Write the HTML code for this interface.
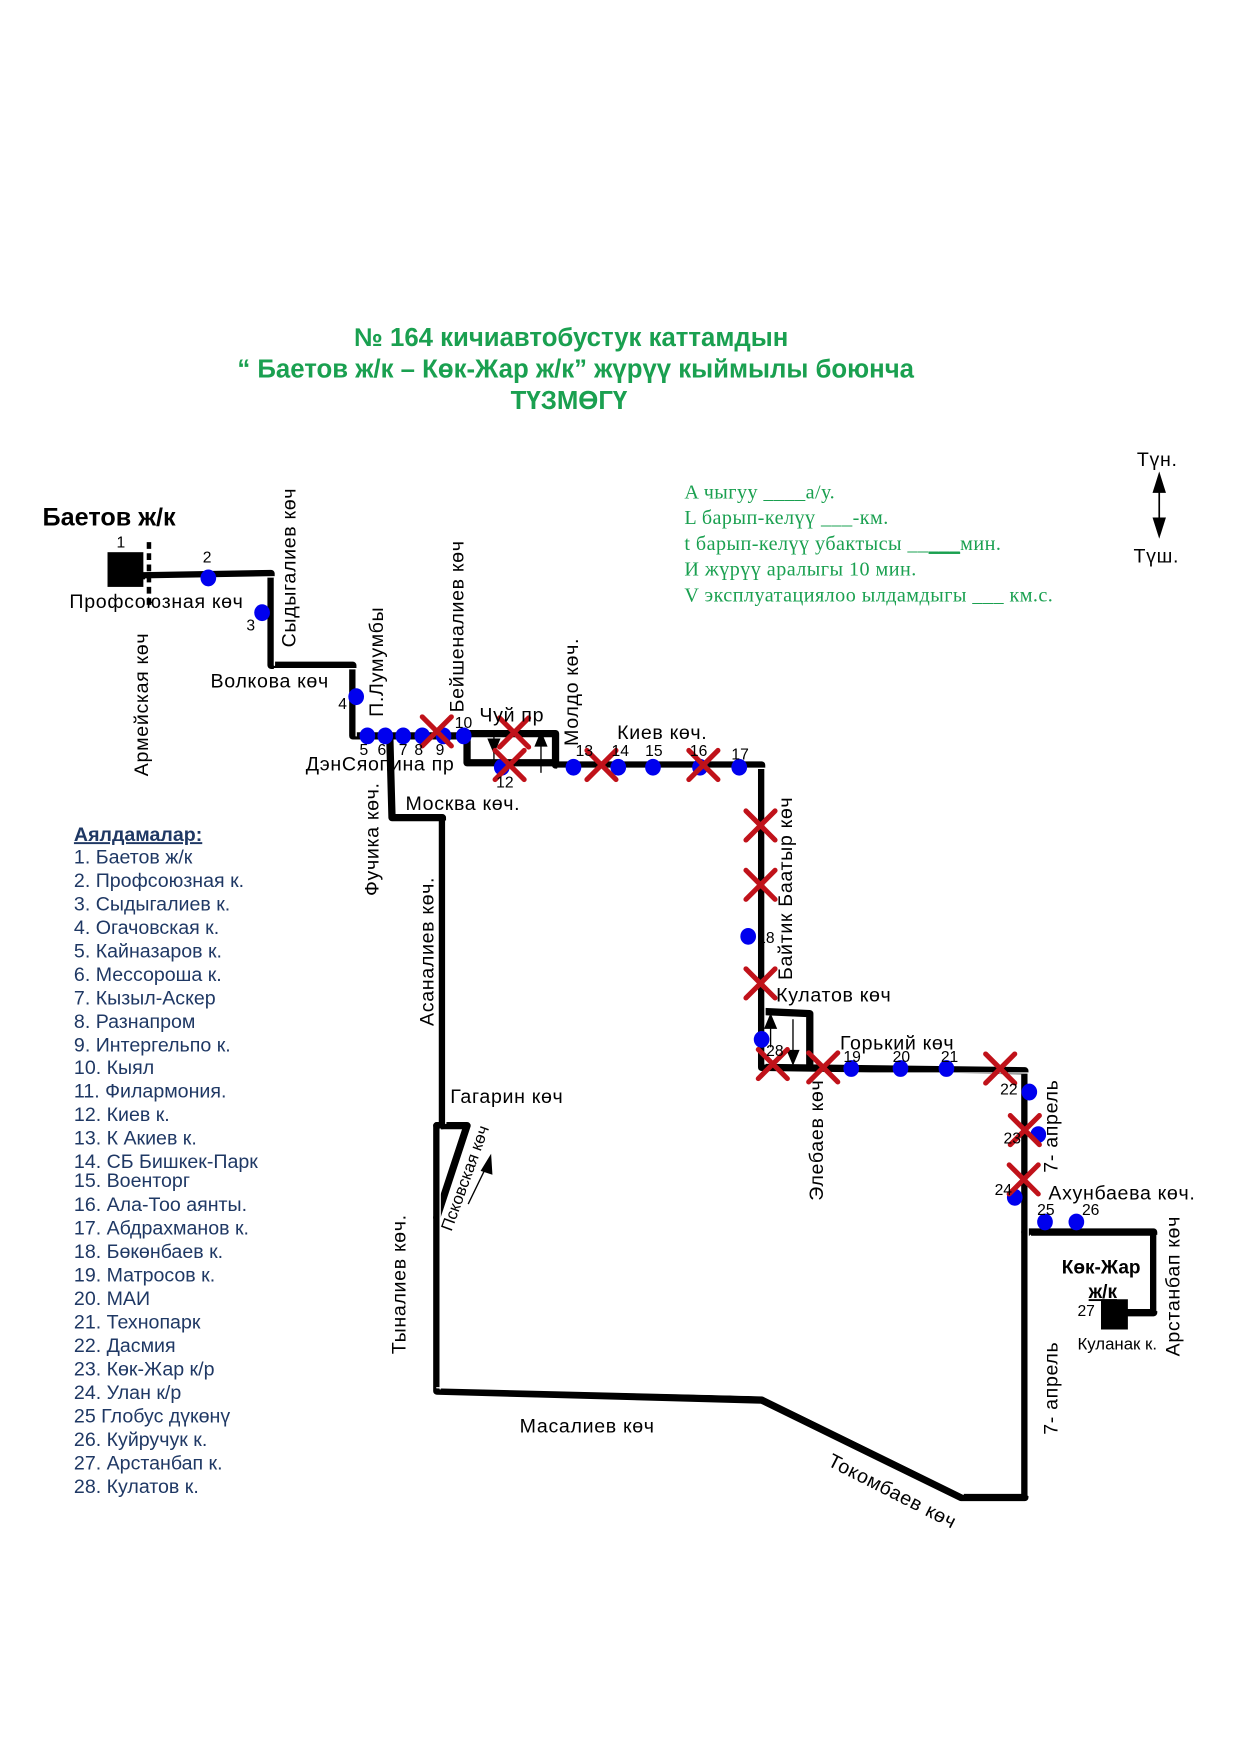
<!DOCTYPE html>
<html><head><meta charset="utf-8"><style>
html,body{margin:0;padding:0;background:#fff}
svg{display:block}
text{font-family:"Liberation Sans",sans-serif;fill:#000}
.g{fill:#1aa050;font-weight:bold;font-size:23px}
.inf{fill:#1aa050;font-family:"Liberation Serif",serif;font-size:18px;letter-spacing:0.4px}
.lg{fill:#1f3864;font-size:17.5px}
.s{font-size:17.5px;letter-spacing:0.6px}
.n{font-size:14px}
</style></head><body>
<svg width="1241" height="1754" viewBox="0 0 1108 1566" preserveAspectRatio="none" xmlns="http://www.w3.org/2000/svg">
<rect width="1108" height="1566" fill="#fff"/>
<text class="g" x="510" y="309" text-anchor="middle">№ 164 кичиавтобустук каттамдын</text>
<text class="g" x="514" y="337" text-anchor="middle">“ Баетов ж/к – Көк-Жар ж/к” жүрүү кыймылы боюнча</text>
<text class="g" x="508" y="365" text-anchor="middle">ТҮЗМӨГҮ</text>

<text class="inf" x="611" y="445">A чыгуу  ____а/у.</text>
<text class="inf" x="611" y="468">L барып-келүү  ___-км.</text>
<text class="inf" x="611" y="491">t барып-келүү убактысы  __<tspan text-decoration="underline">___</tspan>мин.</text>
<text class="inf" x="611" y="514">И жүрүү аралыгы  10   мин.</text>
<text class="inf" x="611" y="537">V эксплуатациялоо ылдамдыгы ___ км.с.</text>

<text class="s" x="1015" y="416">Түн.</text>
<line x1="1035" y1="432" x2="1035" y2="470" stroke="#000" stroke-width="1.5"/>
<polygon points="1035,421 1029,440 1041,440" fill="#000"/>
<polygon points="1035,481 1029,462 1041,462" fill="#000"/>
<text class="s" x="1012" y="502">Түш.</text>

<g fill="none" stroke-linejoin="round" stroke-linecap="round">
<g stroke="#000" stroke-width="6.5">
<path d="M128,514 L242,512 L242,594 L315,594 L315,657 L417,657 L417,681 L496,681 L496,655 L417,655"/>
<path d="M496,683 L680,683 L680,953 L915,956 L915,1337 L858,1337 L680,1250 L390,1242 L390,1005 L395,1005 L395,730 L350,730 L348,657"/>
<path d="M680,903 L723,905 L723,953"/>
<path d="M390,1005 L417,1005 L390,1087"/>
<path d="M915,1100 L1030,1100 L1030,1172 L1000,1172"/>
</g>
<g stroke="#fff" stroke-width="1.2">
<path d="M130,517 L245,515 M245,516 L245,594 M245,597 L318,597 M318,597 L318,657 M498,686 L683,686 M683,686 L683,950 M683,958 L918,958 M918,958 L918,1335 M860,1334 L683,1247 M390,1239 L680,1246 M393,1008 L393,1240 M398,733 L398,1003 M1033,1103 L1033,1170 M920,1103 L920,1335"/>
</g>
</g>
<line x1="133" y1="484" x2="133" y2="542" stroke="#000" stroke-width="4" stroke-dasharray="6,4"/>
<rect x="96" y="493" width="32" height="31" fill="#000"/>
<rect x="983" y="1160" width="24" height="27" fill="#000"/>
<g stroke="#000" stroke-width="1.2">
<line x1="441" y1="658" x2="441" y2="681"/><polygon points="436,660 446,660 441,672" fill="#000"/>
<line x1="483" y1="655" x2="483" y2="690"/><polygon points="478,666 488,666 483,654" fill="#000"/>
<line x1="688" y1="905" x2="688" y2="935"/><polygon points="683,918 693,918 688,906" fill="#000"/>
<line x1="708" y1="910" x2="708" y2="950"/><polygon points="703,938 713,938 708,950" fill="#000"/>
<line x1="418" y1="1075" x2="435" y2="1040"/><polygon points="438,1032 430,1045 439,1048" fill="#000"/>
</g>
<g fill="#0000ee">
<ellipse cx="186" cy="516" rx="7" ry="7.5"/><ellipse cx="234" cy="547" rx="7" ry="7.5"/><ellipse cx="318" cy="622" rx="7" ry="7.5"/>
<ellipse cx="328" cy="657" rx="7" ry="7.5"/><ellipse cx="344" cy="657" rx="7" ry="7.5"/><ellipse cx="360" cy="657" rx="7" ry="7.5"/><ellipse cx="377" cy="657" rx="7" ry="7.5"/><ellipse cx="396" cy="657" rx="7" ry="7.5"/><ellipse cx="414" cy="657" rx="7" ry="7.5"/>
<ellipse cx="448" cy="685" rx="7" ry="7.5"/><ellipse cx="512" cy="685" rx="7" ry="7.5"/><ellipse cx="552" cy="685" rx="7" ry="7.5"/><ellipse cx="583" cy="685" rx="7" ry="7.5"/><ellipse cx="625" cy="685" rx="7" ry="7.5"/><ellipse cx="660" cy="685" rx="7" ry="7.5"/>
<ellipse cx="668" cy="836" rx="7" ry="7.5"/><ellipse cx="680" cy="928" rx="7" ry="7.5"/>
<ellipse cx="760" cy="954" rx="7" ry="7.5"/><ellipse cx="804" cy="954" rx="7" ry="7.5"/><ellipse cx="845" cy="954" rx="7" ry="7.5"/>
<ellipse cx="919" cy="975" rx="7" ry="7.5"/><ellipse cx="927" cy="1013" rx="7" ry="7.5"/><ellipse cx="906" cy="1069" rx="7" ry="7.5"/>
<ellipse cx="933" cy="1091" rx="7" ry="7.5"/><ellipse cx="961" cy="1091" rx="7" ry="7.5"/>
</g>
<g stroke="#c0121a" stroke-width="4.5" stroke-linecap="round">
<path d="M377,640 l26,26 m0,-26 l-26,26"/>
<path d="M446,641 l26,26 m0,-26 l-26,26"/>
<path d="M442,670 l26,26 m0,-26 l-26,26"/>
<path d="M524,670 l26,26 m0,-26 l-26,26"/>
<path d="M615,670 l26,26 m0,-26 l-26,26"/>
<path d="M666,724 l26,26 m0,-26 l-26,26"/>
<path d="M666,777 l26,26 m0,-26 l-26,26"/>
<path d="M666,865 l26,26 m0,-26 l-26,26"/>
<path d="M677,937 l26,26 m0,-26 l-26,26"/>
<path d="M722,940 l26,26 m0,-26 l-26,26"/>
<path d="M880,941 l26,26 m0,-26 l-26,26"/>
<path d="M902,996 l26,26 m0,-26 l-26,26"/>
<path d="M901,1040 l26,26 m0,-26 l-26,26"/>
</g>
<g>
<text class="n" x="104" y="489">1</text><text class="n" x="181" y="502">2</text><text class="n" x="220" y="563">3</text><text class="n" x="302" y="633">4</text>
<text class="n" x="321" y="674">5</text><text class="n" x="337" y="674">6</text><text class="n" x="356" y="674">7</text><text class="n" x="370" y="674">8</text><text class="n" x="389" y="674">9</text><text class="n" x="406" y="650">10</text>
<text class="n" x="443" y="703">12</text><text class="n" x="514" y="675">13</text><text class="n" x="546" y="675">14</text><text class="n" x="576" y="675">15</text><text class="n" x="616" y="675">16</text><text class="n" x="653" y="678">17</text>
<text class="n" x="676" y="842">18</text><text class="n" x="684" y="943">28</text>
<text class="n" x="753" y="948">19</text><text class="n" x="797" y="948">20</text><text class="n" x="840" y="948">21</text>
<text class="n" x="893" y="977">22</text><text class="n" x="896" y="1021">23</text><text class="n" x="888" y="1067">24</text><text class="n" x="926" y="1085">25</text><text class="n" x="966" y="1085">26</text><text class="n" x="962" y="1175">27</text>
</g>
<text x="38" y="469" style="font-size:22.5px;font-weight:bold">Баетов ж/к</text>
<text class="s" x="62" y="543">Профсоюзная көч</text>
<text class="s" x="188" y="614">Волкова көч</text>
<text class="s" x="273" y="688">ДэнСяопина пр</text>
<text class="s" x="428" y="644">Чуй пр</text>
<text class="s" x="551" y="660">Киев көч.</text>
<text class="s" x="362" y="723">Москва көч.</text>
<text class="s" x="693" y="894">Кулатов көч</text>
<text class="s" x="750" y="937">Горький көч</text>
<text class="s" x="402" y="985">Гагарин көч</text>
<text class="s" x="936" y="1071">Ахунбаева көч.</text>
<text class="s" x="464" y="1279">Масалиев көч</text>
<text class="s" x="738" y="1308" transform="rotate(27 738 1308)">Токомбаев көч</text>
<text class="n" x="403" y="1100" transform="rotate(-70 403 1100)" style="font-size:15px">Псковская көч</text>
<text x="948" y="1137" style="font-size:17px;font-weight:bold">Көк-Жар</text>
<text x="972" y="1159" style="font-size:17px;font-weight:bold;text-decoration:underline">ж/к</text>
<text x="962" y="1205" style="font-size:15px">Куланак к.</text>
<text class="s" transform="translate(264,578) rotate(-90)">Сыдыгалиев көч</text>
<text class="s" transform="translate(132,693) rotate(-90)">Армейская көч</text>
<text class="s" transform="translate(342,640) rotate(-90)">П.Лумумбы</text>
<text class="s" transform="translate(414,636) rotate(-90)">Бейшеналиев көч</text>
<text class="s" transform="translate(516,666) rotate(-90)">Молдо көч.</text>
<text class="s" transform="translate(338,800) rotate(-90)">Фучика көч.</text>
<text class="s" transform="translate(387,916) rotate(-90)">Асаналиев көч.</text>
<text class="s" transform="translate(707,875) rotate(-90)">Байтик Баатыр көч</text>
<text class="s" transform="translate(735,1072) rotate(-90)">Элебаев көч</text>
<text class="s" transform="translate(944,1047) rotate(-90)">7- апрель</text>
<text class="s" transform="translate(362,1209) rotate(-90)">Тыналиев көч.</text>
<text class="s" transform="translate(944,1281) rotate(-90)">7- апрель</text>
<text class="s" transform="translate(1053,1211) rotate(-90)">Арстанбап көч</text>
<text class="lg" x="66" y="751" style="font-weight:bold;text-decoration:underline">Аялдамалар:</text>
<text class="lg" x="66" y="771">1. Баетов ж/к</text>
<text class="lg" x="66" y="792">2. Профсоюзная к.</text>
<text class="lg" x="66" y="813">3. Сыдыгалиев к.</text>
<text class="lg" x="66" y="834">4. Огачовская к.</text>
<text class="lg" x="66" y="855">5. Кайназаров к.</text>
<text class="lg" x="66" y="876">6. Мессороша к.</text>
<text class="lg" x="66" y="897">7. Кызыл-Аскер</text>
<text class="lg" x="66" y="918">8. Разнапром</text>
<text class="lg" x="66" y="939">9. Интергельпо к.</text>
<text class="lg" x="66" y="959">10. Кыял</text>
<text class="lg" x="66" y="980">11. Филармония.</text>
<text class="lg" x="66" y="1001">12. Киев к.</text>
<text class="lg" x="66" y="1022">13. К Акиев к.</text>
<text class="lg" x="66" y="1043">14. СБ Бишкек-Парк</text>
<text class="lg" x="66" y="1060">15. Военторг</text>
<text class="lg" x="66" y="1081">16. Ала-Тоо аянты.</text>
<text class="lg" x="66" y="1102">17. Абдрахманов к.</text>
<text class="lg" x="66" y="1123">18. Бөкөнбаев к.</text>
<text class="lg" x="66" y="1144">19. Матросов к.</text>
<text class="lg" x="66" y="1165">20. МАИ</text>
<text class="lg" x="66" y="1186">21. Технопарк</text>
<text class="lg" x="66" y="1207">22. Дасмия</text>
<text class="lg" x="66" y="1228">23. Көк-Жар к/р</text>
<text class="lg" x="66" y="1249">24. Улан к/р</text>
<text class="lg" x="66" y="1270">25  Глобус дүкөнү</text>
<text class="lg" x="66" y="1291">26. Куйручук к.</text>
<text class="lg" x="66" y="1312">27. Арстанбап к.</text>
<text class="lg" x="66" y="1333">28. Кулатов к.</text>
</svg>
</body></html>
